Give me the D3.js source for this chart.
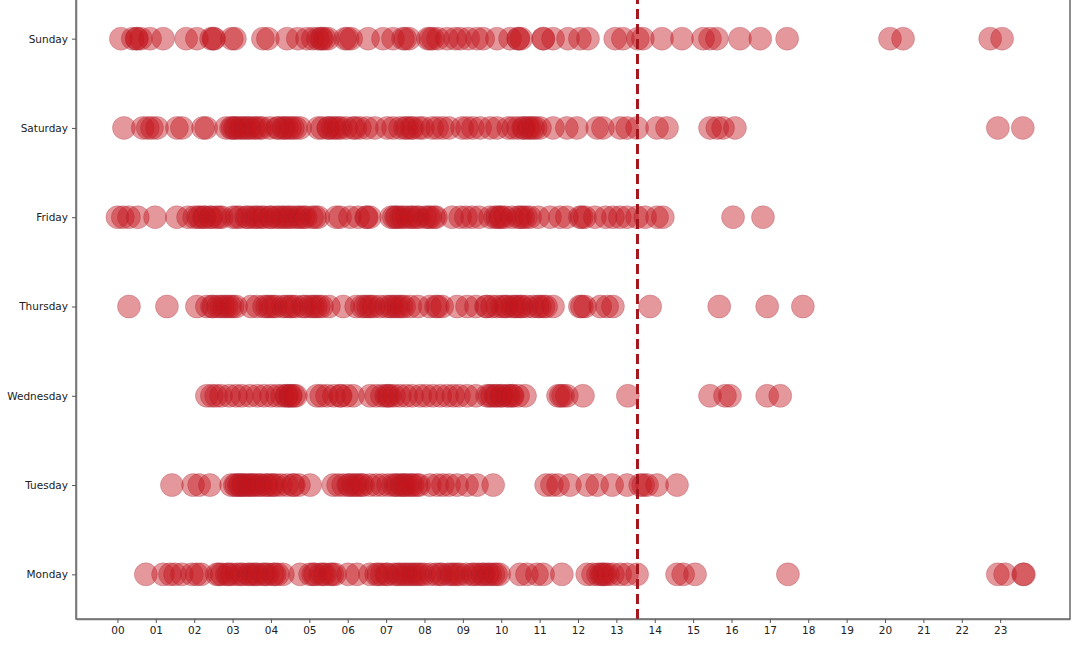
<!DOCTYPE html>
<html>
<head>
<meta charset="utf-8">
<script src="https://cdn.jsdelivr.net/npm/d3@7"></script>
<style>
  html, body { margin: 0; padding: 0; background: #fff; }
  svg { display: block; }
  text { font-family: "DejaVu Sans", sans-serif; }
</style>
</head>
<body>
<svg id="chart" width="1080" height="647"></svg>
<script>
const days = ["Monday", "Tuesday", "Wednesday", "Thursday", "Friday", "Saturday", "Sunday"];
const hourTicks = ["00","01","02","03","04","05","06","07","08","09","10","11","12","13","14","15","16","17","18","19","20","21","22","23"];
const cutoffHour = 13.55;

const mondayHours = [0.74,1.19,1.37,1.50,1.68,1.94,2.07,2.18,2.59,2.65,2.72,2.85,2.90,2.98,3.11,3.20,3.27,3.40,3.45,3.53,3.60,3.66,3.79,3.85,3.92,4.05,4.10,4.18,4.31,4.76,5.02,5.10,5.15,5.28,5.35,5.41,5.54,5.60,5.67,6.01,6.24,6.58,6.74,6.80,6.89,7.00,7.05,7.21,7.30,7.36,7.45,7.52,7.60,7.68,7.75,7.83,7.90,7.99,8.15,8.30,8.40,8.46,8.61,8.70,8.77,8.85,8.93,9.09,9.24,9.30,9.40,9.50,9.55,9.65,9.71,9.80,9.87,9.95,10.49,10.67,10.93,11.09,11.58,12.24,12.39,12.52,12.60,12.65,12.70,12.78,12.91,13.10,13.28,13.54,14.58,14.74,15.05,17.47,22.94,23.13,23.60,23.62];
const tuesdayHours = [1.42,1.97,2.13,2.41,2.96,3.06,3.10,3.17,3.20,3.27,3.30,3.38,3.45,3.48,3.55,3.61,3.70,3.74,3.87,3.90,4.00,4.05,4.13,4.26,4.42,4.57,4.60,4.73,5.02,5.62,5.75,5.88,6.01,6.05,6.14,6.20,6.27,6.35,6.40,6.58,6.74,6.89,7.05,7.18,7.25,7.31,7.40,7.44,7.50,7.57,7.65,7.70,7.80,7.86,8.14,8.33,8.48,8.64,8.85,9.11,9.37,9.79,11.17,11.32,11.48,11.79,12.24,12.50,12.89,13.28,13.62,13.70,13.80,14.06,14.58];
const wednesdayHours = [2.33,2.46,2.57,2.70,2.91,3.09,3.24,3.45,3.64,3.82,4.00,4.16,4.29,4.40,4.42,4.50,4.52,4.60,4.65,5.20,5.31,5.46,5.64,5.80,5.82,5.98,6.14,6.58,6.74,6.89,7.00,7.05,7.10,7.21,7.36,7.52,7.68,7.89,8.04,8.22,8.41,8.59,8.75,8.90,9.11,9.34,9.63,9.70,9.76,9.85,9.89,10.00,10.02,10.15,10.20,10.28,10.30,10.44,10.62,11.48,11.55,11.61,11.71,12.13,13.30,15.44,15.83,15.96,16.93,17.27];
const thursdayHours = [0.30,1.29,2.07,2.33,2.46,2.50,2.62,2.70,2.78,2.85,2.93,3.00,3.09,3.48,3.64,3.82,3.90,3.97,4.05,4.13,4.31,4.40,4.49,4.55,4.65,4.83,4.90,5.02,5.10,5.17,5.25,5.33,5.51,5.88,6.22,6.37,6.45,6.53,6.60,6.68,6.84,7.00,7.10,7.16,7.25,7.32,7.40,7.47,7.63,7.83,8.14,8.30,8.35,8.46,8.85,9.11,9.34,9.60,9.63,9.76,9.89,10.02,10.10,10.15,10.28,10.35,10.41,10.50,10.54,10.67,10.83,10.95,11.01,11.10,11.17,11.35,12.05,12.10,12.18,12.58,12.76,12.91,13.88,15.68,16.93,17.86];
const fridayHours = [0.00,0.14,0.30,0.53,0.98,1.55,1.84,2.00,2.10,2.15,2.25,2.28,2.41,2.45,2.57,2.65,2.72,3.01,3.10,3.19,3.35,3.40,3.51,3.60,3.66,3.75,3.82,3.97,4.00,4.13,4.20,4.29,4.35,4.44,4.50,4.60,4.70,4.76,4.85,4.91,5.07,5.15,5.23,5.70,5.80,6.06,6.27,6.48,6.50,6.58,7.13,7.20,7.26,7.30,7.39,7.45,7.55,7.65,7.70,7.80,7.86,8.02,8.10,8.15,8.25,8.30,8.72,8.93,9.08,9.24,9.42,9.71,9.84,9.90,9.97,10.00,10.10,10.28,10.44,10.50,10.57,10.65,10.75,10.96,11.27,11.53,11.71,12.05,12.10,12.18,12.44,12.72,12.91,13.09,13.28,13.54,13.75,14.06,14.21,16.04,16.82];
const saturdayHours = [0.17,0.66,0.79,0.90,1.03,1.55,1.68,2.23,2.31,2.83,2.96,3.00,3.06,3.10,3.19,3.25,3.32,3.40,3.45,3.55,3.61,3.70,3.77,3.97,4.16,4.20,4.31,4.35,4.42,4.50,4.57,4.65,4.76,5.23,5.33,5.49,5.50,5.60,5.67,5.75,5.82,5.96,6.14,6.20,6.32,6.50,6.71,7.02,7.18,7.36,7.49,7.55,7.65,7.70,7.86,7.96,8.20,8.33,8.48,8.64,8.98,9.11,9.26,9.45,9.71,9.89,10.18,10.31,10.44,10.57,10.60,10.70,10.75,10.83,10.90,11.01,11.35,11.71,11.97,12.50,12.65,13.10,13.28,13.54,14.06,14.32,15.44,15.63,15.78,16.09,22.94,23.59];
const sundayHours = [0.09,0.40,0.50,0.51,0.61,0.85,1.19,1.79,2.07,2.44,2.50,2.52,2.98,3.06,3.79,3.92,4.42,4.70,4.94,5.09,5.22,5.30,5.33,5.40,5.49,5.93,6.00,6.09,6.53,6.92,7.18,7.44,7.50,7.60,8.09,8.15,8.22,8.35,8.59,8.80,8.93,9.14,9.37,9.53,9.89,10.23,10.44,10.45,10.52,11.09,11.10,11.35,11.74,12.05,12.26,12.97,13.17,13.56,13.69,14.19,14.71,15.26,15.44,15.62,16.22,16.75,17.45,20.13,20.47,22.74,23.05];

const hoursByDay = [mondayHours, tuesdayHours, wednesdayHours, thursdayHours, fridayHours, saturdayHours, sundayHours];

const points = [];
hoursByDay.forEach((arr, i) => arr.forEach(h => points.push({ day: i, hour: h })));

const svg = d3.select("#chart");
svg.append("rect").attr("width", 1080).attr("height", 647).attr("fill", "#fff");

const mLeft = 76, mRight = 1070, mBottom = 619, mTop = -6;

const x = d3.scaleLinear().domain([-1.08, 24.82]).range([mLeft, mRight]);
const y = d3.scaleLinear().domain([-0.5, 6.5]).range([mBottom, mTop]);

// frame
svg.append("rect")
  .attr("x", mLeft).attr("y", mTop)
  .attr("width", mRight - mLeft).attr("height", mBottom - mTop)
  .attr("fill", "none").attr("stroke", "#444").attr("stroke-width", 1.2);

// points
svg.append("g").selectAll("circle")
  .data(points)
  .join("circle")
  .attr("cx", d => x(d.hour))
  .attr("cy", d => y(d.day))
  .attr("r", 11.5)
  .attr("fill", "rgb(196,20,28)")
  .attr("fill-opacity", 0.44)
  .attr("stroke", "rgb(150,40,60)")
  .attr("stroke-opacity", 0.25)
  .attr("stroke-width", 1);

// cutoff line
svg.append("line")
  .attr("x1", x(cutoffHour)).attr("x2", x(cutoffHour))
  .attr("y1", mTop).attr("y2", mBottom)
  .attr("stroke", "#a3171c")
  .attr("stroke-width", 3)
  .attr("stroke-dasharray", "10,5");

// axes
const xAxis = d3.axisBottom(x)
  .tickValues(d3.range(hourTicks.length))
  .tickFormat(i => hourTicks[i])
  .tickSizeOuter(0).tickSizeInner(4).tickPadding(4);
const gx = svg.append("g").attr("transform", `translate(0,${mBottom})`).call(xAxis);
gx.select(".domain").attr("stroke", "#777").attr("stroke-width", 1.5);
gx.selectAll(".tick line").attr("stroke", "#555");
gx.selectAll(".tick text").attr("font-size", 10.5).attr("fill", "#222").attr("font-family", "DejaVu Sans, sans-serif");

const yAxis = d3.axisLeft(y)
  .tickValues(d3.range(days.length))
  .tickFormat(i => days[i])
  .tickSizeOuter(0).tickSizeInner(4).tickPadding(4);
const gy = svg.append("g").attr("transform", `translate(${mLeft},0)`).call(yAxis);
gy.select(".domain").attr("stroke", "#777").attr("stroke-width", 1.5);
gy.selectAll(".tick line").attr("stroke", "#555");
gy.selectAll(".tick text").attr("font-size", 10.5).attr("fill", "#222").attr("font-family", "DejaVu Sans, sans-serif");
</script>
</body>
</html>
